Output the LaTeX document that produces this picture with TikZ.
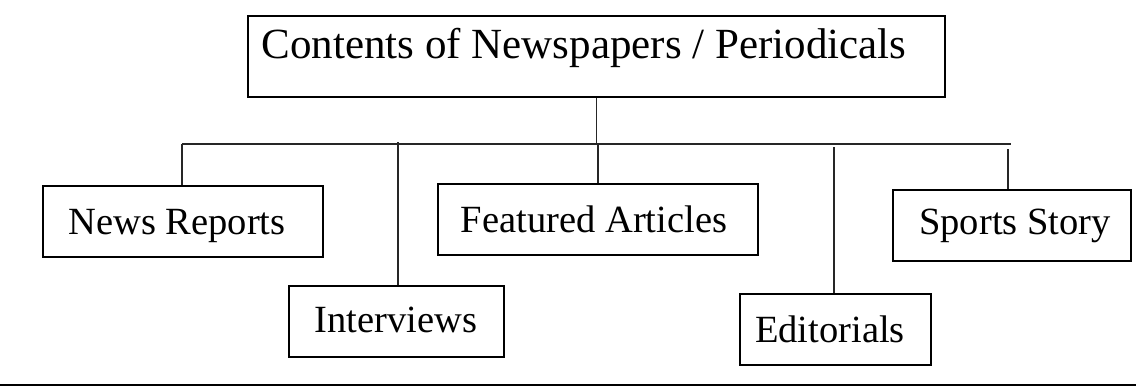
\documentclass[tikz,border=0pt]{standalone}
\usepackage{fontspec}
\setmainfont{Liberation Serif}
\begin{document}
\begin{tikzpicture}[x=1pt,y=-1pt,
  box/.style={draw=black, line width=2pt, rectangle, inner sep=0pt},
  lbl/.style={anchor=base, inner sep=0pt, font=\fontsize{38.5}{42}\selectfont},
  ttl/.style={anchor=base, inner sep=0pt, font=\fontsize{43}{48}\selectfont},
  wire/.style={draw=black!85, line width=1.8pt}
]
\useasboundingbox (0,0) rectangle (1138,387);

% boxes
\node[box, minimum width=697pt, minimum height=81pt] (top) at (596.5,56.5) {};
\node[box, minimum width=280pt, minimum height=71pt] (nr) at (183,221.5) {};
\node[box, minimum width=215pt, minimum height=71pt] (iv) at (396.5,321.5) {};
\node[box, minimum width=320pt, minimum height=71pt] (fa) at (598,219.5) {};
\node[box, minimum width=191pt, minimum height=71pt] (ed) at (835.5,329.5) {};
\node[box, minimum width=238pt, minimum height=71pt] (ss) at (1012,225.5) {};

% labels
\node[ttl] (topt) at (584,59) {Contents of Newspapers / Periodicals};
\node[lbl] (nrt) at (177,235) {News Reports};
\node[lbl] (ivt) at (396,333) {Interviews};
\node[lbl] (fat) at (594,233) {Featured Articles};
\node[lbl] (edt) at (830,342) {Editorials};
\node[lbl] (sst) at (1015,235) {Sports Story};

% bus line and branch ends
\coordinate (busL) at (182,144);
\coordinate (busR) at (1011,144);
\coordinate (ivend) at (398,142);
\coordinate (edend) at (834,147);
\coordinate (ssend) at (1008,149);

\draw[wire] (top.south) -- (top.south |- busL);
\draw[wire] (busL) -- (busR);
\draw[wire] (nr.north -| busL) -- (busL);
\draw[wire] (iv.north -| ivend) -- (ivend);
\draw[wire] (fa.north) -- (fa.north |- busL);
\draw[wire] (ed.north -| edend) -- (edend);
\draw[wire] (ss.north -| ssend) -- (ssend);

% rule under the chart
\coordinate (ruleL) at (0,385);
\coordinate (ruleR) at (1136,385);
\draw[black, line width=2pt] (ruleL) -- (ruleR);
\end{tikzpicture}
\end{document}
